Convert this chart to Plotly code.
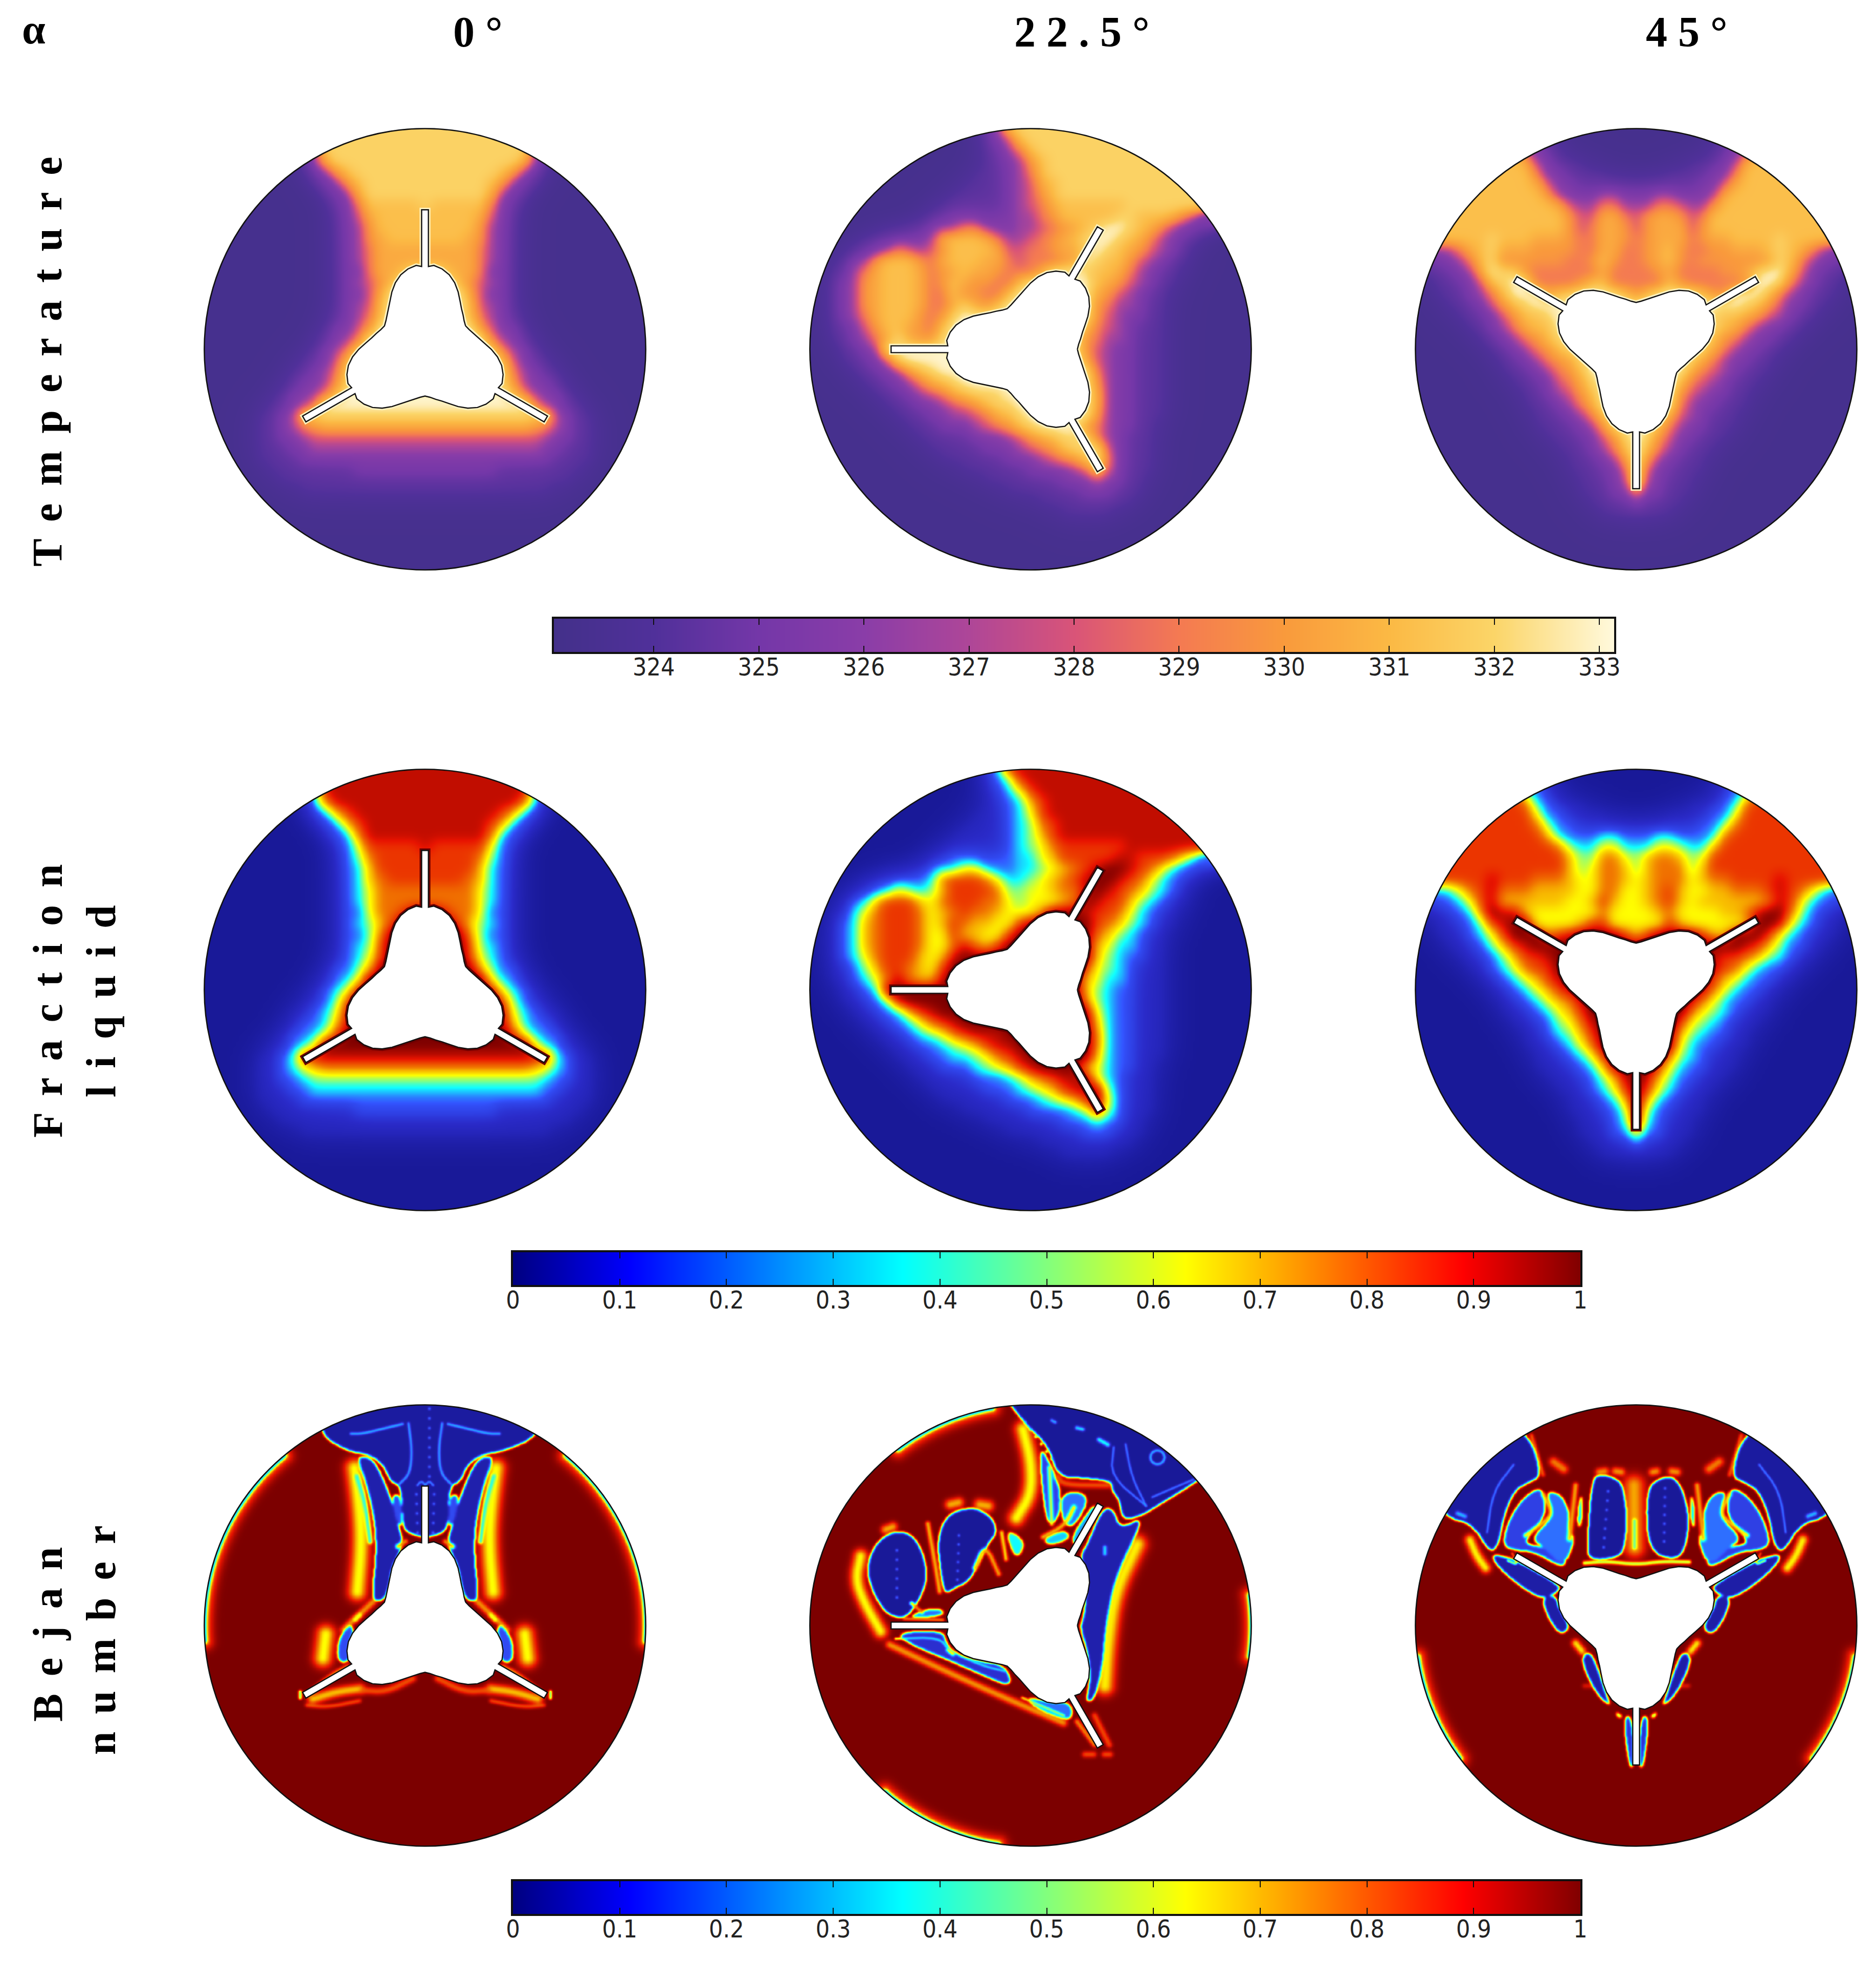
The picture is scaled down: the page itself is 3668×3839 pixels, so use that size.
import numpy as np
import plotly.graph_objects as go

W, H = 3668, 3839
ANGLES = ["0 °", "2 2 . 5 °", "4 5 °"]
LOBE_AXIS_DEG = [90, 60, 30]
T_TICKS = [324, 325, 326, 327, 328, 329, 330, 331, 332, 333]
T_MIN, T_MAX = 323.05, 333.14
F_TICKS = [0, 0.1, 0.2, 0.3, 0.4, 0.5, 0.6, 0.7, 0.8, 0.9, 1]
F_TICK_TEXT = ["0", "0.1", "0.2", "0.3", "0.4", "0.5", "0.6", "0.7", "0.8", "0.9", "1"]

# field levels: one letter per grid node
LEVELS = "0123456789a"
LEVEL_T = [323.3, 324.3, 325.3, 326.6, 328.0, 329.0, 329.9, 330.5, 331.2, 331.9, 333.0]
LEVEL_F = [0.02, 0.08, 0.15, 0.33, 0.50, 0.63, 0.70, 0.78, 0.85, 0.93, 1.0]

FIELD_0 = [
 "0"*10+"3"+"9"*19+"3"+"0"*10,
 "0"*10+"3"+"9"*19+"3"+"0"*10,
 "0"*10+"3"+"9"*19+"3"+"0"*10,
 "0"*10+"37"+"9"*17+"73"+"0"*10,
 "0"*10+"1368"+"9"*13+"8631"+"0"*10,
 "0"*11+"1368"+"9"*11+"8631"+"0"*11,
 "0"*12+"137"+"9"*11+"731"+"0"*12,
 "0"*12+"1258"+"888898888"+"8521"+"0"*12,
 "0"*12+"1247"+"888888888"+"7421"+"0"*12,
 "0"*12+"1236"+"888888888"+"6321"+"0"*12,
 "0"*12+"1236"+"788888887"+"6321"+"0"*12,
 "0"*12+"1235"+"777777777"+"5321"+"0"*12,
 "0"*12+"1235"+"777777777"+"5321"+"0"*12,
 "0"*12+"1225"+"778aaa877"+"5221"+"0"*12,
 "0"*12+"1234"+"68aaaaa86"+"4321"+"0"*12,
 "0"*12+"1224"+"7aaaaaaa7"+"4221"+"0"*12,
 "0"*12+"1234"+"8aaaaaaa8"+"4321"+"0"*12,
 "0"*12+"1235"+"8aaaaaaa8"+"5321"+"0"*12,
 "0"*11+"12246"+"a"*9+"64221"+"0"*11,
 "0"*11+"1235"+"a"*11+"5321"+"0"*11,
 "0"*10+"12359"+"a"*11+"95321"+"0"*10,
 "0"*9+"11248"+"a"*13+"84211"+"0"*9,
 "0"*8+"112359"+"a"*13+"953211"+"0"*8,
 "0"*8+"122369"+"a"*13+"963221"+"0"*8,
 "0"*7+"122358"+"a"*15+"853221"+"0"*7,
 "0"*6+"11235"+"a"*19+"53211"+"0"*6,
 "0"*5+"112389"+"9"*19+"983211"+"0"*5,
 "0"*5+"112356"+"7"*19+"653211"+"0"*5,
 "0"*5+"112234"+"4"*19+"432211"+"0"*5,
 "0"*5+"11122"+"3"*21+"22111"+"0"*5,
 "0"*5+"1111"+"2"*23+"1111"+"0"*5,
 "0"*6+"1"*8+"2"*13+"1"*8+"0"*6,
 "0"*7+"1"*27+"0"*7,
 "0"*9+"1"*23+"0"*9,
] + ["0"*41]*7

FIELD_22 = [
 "0"*16+"138"+"9"*22,
 "0"*16+"1248"+"9"*21,
 "0"*16+"11358"+"9"*20,
 "0"*16+"112368"+"9"*19,
 "0"*15+"1112358"+"9"*19,
 "0"*14+"111123478"+"9"*6+"9"+"9"*11,
 "0"*13+"11111"+"23468"+"9"*18,
 "0"*12+"111111"+"23457"+"8"*6+"9"*12,
 "0"*11+"11222122"+"33"+"56"+"88888"+"99"+"888"+"7531"+"0000",
 "0"*10+"12335532233456789aa9875321"+"0"*5,
 "0"*6+"11222"+"3"+"78887"+"5"+"33"+"4567"+"89"+"aa"+"98"+"75"+"321"+"0"*6,
 "0"*4+"112354346"+"8888"+"7"+"4455"+"677"+"9a987"+"64321"+"0"*6,
 "000"+"1236888657888775455567"+"a98864"+"3211"+"0"*6,
 "00"+"11357888756787765557"+"aaa"+"988753211"+"0"*7,
 "00"+"123678887568766558"+"a"*6+"87643211"+"0"*7,
 "00"+"12367888755866558"+"a"*7+"7643211"+"0"*8,
 "00"+"1236788875579768"+"a"*8+"6533211"+"0"*8,
 "00"+"123578886569"+"a"*12+"6432211"+"0"*8,
 "00"+"11246887658"+"a"*12+"85432111"+"0"*8,
 "00"+"11235797669"+"a"*12+"65332111"+"0"*8,
 "000"+"1123"+"a"*18+"64322111"+"0"*8,
 "000"+"111249"+"a"*16+"74322111"+"0"*8,
 "0000"+"11123689"+"a"*14+"5322111"+"0"*8,
 "0"*5+"111"+"235789"+"a"*12+"6322111"+"0"*8,
 "0"*6+"111234578999"+"a"*8+"7322111"+"0"*8,
 "0"*7+"111223456899"+"a"*7+"7322111"+"0"*8,
 "0"*8+"111223345789"+"a"*6+"6322111"+"0"*8,
 "0"*9+"111222345689"+"aaaa"+"6532211"+"0"*9,
 "0"*10+"111112223467899"+"a"+"532111"+"0"*9,
 "0"*11+"111112223456899"+"a"+"42111"+"0"*9,
 "0"*12+"111111"+"22234568"+"a"+"52111"+"0"*9,
 "0"*14+"111111"+"2222"+"3484"+"2111"+"0"*9,
 "0"*16+"1111111"+"222322"+"11"+"0"*10,
 "0"*18+"1111111"+"222"+"111"+"0"*10,
 "0"*21+"1"*9+"0"*11,
 "0"*23+"1"*5+"0"*13,
] + ["0"*41]*5

FIELD_45 = [
 "8"*10+"321"+"0"*15+"123"+"8"*10,
 "8"*10+"321"+"0"*15+"123"+"8"*10,
 "8"*10+"321"+"0"*15+"123"+"8"*10,
 "8"*10+"732"+"111"+"0"*9+"111"+"237"+"8"*10,
 "8"*11+"522"+"1111"+"00000"+"1111"+"225"+"8"*11,
 "8"*11+"7422"+"1"*11+"22"+"47"+"8"*11,
 "8"*12+"6"+"322233222332223"+"7"+"8"*12,
 "8"*13+"743355333554336"+"8"*13,
 "8"*14+"64477546776458"+"8"*13,
 "8"*14+"64577646777468"+"8"*13,
 "8"*7+"9"+"888"+"777"+"65"+"5"+"77"+"6"+"5"+"6"+"777"+"5"+"6"+"77"+"8888"+"9"+"8"*7,
 "22335789777"+"6666"+"55"+"77"+"55"+"6"+"7"+"8"+"6"+"55"+"66"+"777"+"8"+"9"+"8"+"7"+"5"+"3"+"2"+"11",
 "11123589"+"666666"+"55"+"6"+"8"+"6"+"55"+"6"+"7"+"8"+"6"+"5"+"666666"+"7"+"9"+"8"+"5"+"3"+"2"+"111",
 "0111237a996"+"555555"+"7"+"5555"+"6"+"7"+"5555"+"66"+"7"+"9"+"aa"+"7"+"4"+"2"+"111"+"0",
 "00111248"+"9aa"+"5555"+"6"+"88"+"55555"+"8"+"6"+"55555"+"6"+"aa"+"9"+"5"+"3"+"2"+"11"+"00",
 "001112358"+"aaa"+"789"+"aaaa"+"868"+"aaaa"+"866"+"aaa"+"853"+"2"+"111"+"00",
 "000"+"11124689"+"a"*19+"98642211"+"000",
 "0000"+"111246889"+"a"*14+"9887643211"+"0000",
 "0"*5+"11235788"+"a"*14+"987532211"+"0"*5,
 "0"*6+"11235689"+"a"*13+"86532211"+"0"*6,
 "0"*7+"11235689"+"a"*11+"97532211"+"0"*7,
 "0"*8+"11235679"+"a"*9+"97532211"+"0"*8,
 "0"*8+"11123568"+"a"*9+"75432111"+"0"*8,
 "0"*9+"11124579"+"a"*7+"85432111"+"0"*9,
 "0"*10+"1123468"+"a"*7+"6432211"+"0"*10,
 "0"*10+"1112357"+"a"*7+"5322111"+"0"*10,
 "0"*11+"1112358"+"a"*5+"7432111"+"0"*11,
 "0"*11+"11112369"+"aaa"+"85322111"+"0"*11,
 "0"*12+"11112469"+"a"+"96422111"+"0"*12,
 "0"*13+"1112358"+"a"+"8532111"+"0"*13,
 "0"*14+"111236"+"a"+"632111"+"0"*14,
 "0"*14+"111124"+"a"+"421111"+"0"*14,
 "0"*15+"11123"+"a"+"32111"+"0"*15,
 "0"*15+"11122"+"5"+"22111"+"0"*15,
 "0"*16+"1111"+"2"+"1111"+"0"*16,
 "0"*17+"1"*7+"0"*17,
] + ["0"*41]*5

# profile of the finned tube (angle from lobe axis, radius / R)
LOBE_PHI = [0, 6, 12, 18, 24, 30, 36, 42, 48, 54, 60]
LOBE_R = [0.384, 0.382, 0.372, 0.355, 0.330, 0.300, 0.270, 0.247, 0.232, 0.219, 0.212]
FIN_TIP_R = 0.632
FIN_BASE_R = 0.375

# Bejan number structures, in picture units of each panel
# regions: (outline, value inside); strokes: (polyline, half width, value at the ridge)
def mir(items, c):
    return [([(2 * c - x, y) for x, y in it[0]],) + tuple(it[1:]) for it in items]

B0_UNDER = [
 ([(542,262),(560,400),(566,520),(552,680)], 30, 0.62),
 ([(445,825),(435,905)], 30, 0.62),
 ([(605,715),(540,775),(505,810)], 11, 0.72),
 ([(520,935),(470,960),(385,1030)], 8, 0.7),
 ([(400,1045),(480,1020),(560,1010)], 16, 0.68),
 ([(570,1015),(650,1020),(740,975)], 11, 0.8),
 ([(380,1065),(450,1072),(560,1050)], 5, 0.75),
]
B0_BLUE = [
 ([(550,225),(585,320),(612,450),(616,560),(600,705),(632,716),(656,682),(669,600),(695,548),(706,510),(695,470),(677,400),(645,310),(615,248),(585,222)], 0.05),
 ([(668,355),(694,350),(704,400),(704,465),(680,435)], 0.15),
 ([(482,895),(492,832),(528,790),(540,815),(525,860),(528,910),(498,924)], 0.15),
]
B0_TOP = [(425,148),(520,205),(590,215),(640,250),(665,310),(700,320),(705,450),(720,480),(770,495),(794,495),(845,480),(860,450),(865,320),(900,310),(925,250),(975,215),(1045,205),(1170,152),(1170,30),(425,30)]
B0_OVER = [
 ([(690,527),(715,510)], 8, 0.75),
 ([(358,1020),(358,1040)], 5, 0.4),
 ([(545,775),(560,760)], 8, 0.6),
]
B0_LINES = [
 ([(725,110),(737,200),(730,280),(695,315)], 4, 0.3),
 ([(530,145),(570,145),(650,125),(705,112)], 4, 0.33),
 ([(550,290),(578,380),(595,510)], 8, 0.38),
 ([(755,320),(768,305),(782,318)], 3, 0.3),
]
B0_DOTS = [[(752,350),(756,480)]]
B0_DOTS_C = [[(796,60),(796,290)]]

B22_UNDER = [
 ([(212,560),(195,640),(225,720),(280,815)], 22, 0.62),
 ([(296,470),(322,460)], 14, 0.7),
 ([(515,385),(545,378)], 16, 0.7),
 ([(615,385),(645,390)], 18, 0.7),
 ([(762,130),(790,240),(790,350),(740,430)], 26, 0.62),
 ([(1150,520),(1075,680),(1050,850),(1040,1000)], 30, 0.64),
 ([(310,860),(500,950),(700,1040),(900,1125)], 12, 0.72),
 ([(1005,1100),(1055,1200)], 9, 0.8),
 ([(945,1120),(1005,1200)], 7, 0.7),
 ([(972,1232),(1002,1232)], 9, 0.8),
 ([(1038,1232),(1058,1232)], 9, 0.8),
]
B22_BLUE = [
 ([(232,600),(262,515),(330,472),(392,490),(428,560),(438,640),(408,715),(365,768),(335,768),(295,750),(252,680)], 0.02),
 ([(472,500),(505,418),(590,392),(656,425),(675,480),(645,515),(608,595),(575,648),(530,668),(498,690),(484,620)], 0.02),
 ([(720,50),(780,120),(850,190),(880,290),(960,295),(1060,305),(1065,340),(1090,370),(1100,440),(1170,420),(1200,400),(1340,315),(1385,280),(1385,30),(720,30)], 0.02),
 ([(1175,425),(1090,468),(1070,400),(1030,400),(980,520),(955,560),(980,630),(970,760),(955,800),(980,880),(990,960),(985,1010),(975,1055),(1005,1045),(1032,930),(1042,800),(1068,660),(1108,560)], 0.05),
 ([(325,820),(490,812),(500,850),(525,885),(600,915),(705,930),(726,1005),(640,970),(500,908),(395,866)], 0.1),
 ([(775,1038),(860,1056),(925,1056),(930,1115),(880,1106),(795,1066)], 0.2),
 ([(820,180),(870,280),(890,340),(885,430),(845,460),(825,300)], 0.13),
 ([(890,340),(995,350),(935,465),(895,445)], 0.2),
 ([(700,465),(775,510),(738,578)], 0.36),
 ([(425,742),(485,738),(495,762),(370,772)], 0.2),
 ([(925,495),(1000,385),(1012,398),(942,535)], 0.25),
 ([(830,500),(905,470),(925,500),(850,525)], 0.3),
]
B22_OVER = [
 ([(440,450),(460,560),(480,680)], 8, 0.7),
 ([(600,600),(635,520),(680,620)], 8, 0.72),
 ([(690,480),(705,570)], 7, 0.65),
 ([(830,495),(905,455),(935,395)], 8, 0.7),
 ([(880,290),(900,318),(1050,320)], 11, 0.82),
 ([(852,260),(860,450)], 7, 0.6),
 ([(385,720),(420,750)], 6, 0.75),
 ([(360,772),(490,776)], 5, 0.75),
 ([(760,1040),(900,1100)], 4, 0.6),
 ([(510,878),(525,890)], 7, 0.75),
]
B22_LINES = [
 ([(1110,180),(1130,290),(1180,390)], 3, 0.28),
 ([(1070,190),(1060,290),(1180,390)], 3, 0.28),
 ([(1340,300),(1200,360)], 3, 0.28),
 ([(1243,225),(1236,243),(1218,250),(1200,243),(1193,225),(1200,207),(1218,200),(1236,207),(1243,225)], 4, 0.33),
 ([(945,125),(965,130)], 6, 0.36),
 ([(1020,165),(1050,182)], 7, 0.4),
 ([(860,100),(872,106)], 5, 0.3),
 ([(1040,530),(1040,552)], 6, 0.36),
 ([(330,840),(480,835),(510,880),(620,930),(700,950)], 3, 0.42),
]
B22_DOTS = [[(335,540),(335,700)], [(545,490),(540,640)], [(770,105),(860,230)]]

B45_UNDER = [
 ([(232,505),(255,560),(285,600)], 16, 0.62),
 ([(515,240),(550,265)], 14, 0.75),
 ([(590,855),(612,882)], 12, 0.62),
 ([(440,150),(480,285)], 5, 0.72),
 ([(680,1000),(620,1000)], 7, 0.88),
]
B45_BLUE = [
 ([(435,150),(475,290),(430,310),(380,340),(345,430),(330,520),(300,550),(240,450),(150,430),(60,300),(300,60)], 0.03),
 ([(340,520),(370,420),(430,345),(480,330),(490,400),(470,450),(430,490),(420,520),(490,530),(560,570),(545,600),(450,545),(380,540)], 0.13),
 ([(490,340),(540,350),(570,410),(565,480),(590,500),(550,600),(480,530),(440,500),(500,440),(510,400)], 0.2),
 ([(298,552),(345,618),(470,708),(520,688),(545,662),(395,578),(365,566)], 0.04),
 ([(475,700),(522,692),(535,740),(572,800),(540,828),(498,772)], 0.04),
 ([(612,900),(640,882),(672,960),(697,1040),(708,1068),(665,1032),(622,950)], 0.04),
 ([(752,1105),(782,1105),(788,1275),(772,1275)], 0.1),
 ([(725,1085),(750,1105),(735,1110)], 0.33),
 ([(598,400),(612,340),(612,440),(598,470)], 0.25),
]
B45_OVER = [
 ([(590,320),(570,500)], 9, 0.72),
 ([(480,350),(510,410),(490,440),(420,490)], 7, 0.68),
 ([(360,575),(395,590),(375,550)], 3, 0.75),
 ([(190,415),(215,425)], 7, 0.3),
]
B45_UNDER_C = [
 ([(788,320),(790,530)], 34, 0.72),
 ([(670,275),(690,272)], 12, 0.72),
 ([(725,272),(745,275)], 12, 0.72),
 ([(850,275),(865,272)], 12, 0.72),
 ([(915,272),(935,275)], 12, 0.72),
]
B45_BLUE_C = [
 ([(630,515),(645,295),(680,284),(722,295),(750,318),(765,430),(755,535),(732,565),(635,575)], 0.02),
 ([(830,330),(878,295),(922,290),(955,338),(975,430),(965,525),(932,575),(835,545)], 0.02),
]
B45_OVER_C = [
 ([(620,583),(700,578),(796,588),(880,578),(975,580)], 6, 0.5),
 ([(790,440),(790,530)], 7, 0.45),
]
B45_DOTS_C = [[(700,340),(685,530)], [(893,330),(890,510)]]
B45_LINES = [
 ([(380,250),(310,340),(290,480)], 3, 0.28),
]

RIM_ARCS = [
 [(129.6, 184), (50.4, -4)],
 [(127, 100), (8, -8), (228.6, 261.6)],
 [(188, 217), (-8, -37)],
]

# ---------- colours ----------
JET = [[0, "#000080"], [0.11, "#0000ff"], [0.365, "#00ffff"], [0.63, "#ffff00"], [0.89, "#ff0000"], [1, "#800000"]]
JET_PANEL = [[0, "#14148a"], [0.09, "#2a2ac8"], [0.17, "#3355ff"], [0.365, "#10ffff"], [0.63, "#ffff00"], [0.78, "#f07000"], [0.89, "#e81400"], [1, "#7c0000"]]
TV = [323.05, 324, 325, 326, 327, 328, 329, 330, 331, 332, 333.14]
TC = ["#43308a", "#50309a", "#7437a8", "#8a3da8", "#ae4698", "#d95478", "#f47a52", "#f99a3c", "#fbb944", "#fbd568", "#fff9dc"]
THERMAL = [[(v - T_MIN) / (T_MAX - T_MIN), c] for v, c in zip(TV, TC)]

# ---------- layout of the picture ----------
COL_X = [831, 2015, 3199]
ROW_Y = [683, 1936, 3179]
PANEL_XC = [782, 789, 796]
PANEL_YC = [787, 791, 790]
BEJAN_YC = 796
R = 748.0
HALF_U = 780.0
HALF_PX = 450.0

fig = go.Figure()
layout = {}
shapes = []
axis_n = [0]


def new_axes(x0, x1, y0, y1, xr, yr):
    axis_n[0] += 1
    n = axis_n[0]
    xn = "x" if n == 1 else f"x{n}"
    yn = "y" if n == 1 else f"y{n}"
    xk = "xaxis" if n == 1 else f"xaxis{n}"
    yk = "yaxis" if n == 1 else f"yaxis{n}"
    layout[xk] = dict(domain=[x0 / W, x1 / W], range=xr, anchor=yn, visible=False, fixedrange=True)
    layout[yk] = dict(domain=[1 - y1 / H, 1 - y0 / H], range=yr, anchor=xn, visible=False, fixedrange=True)
    return xn, yn, xk, yk


def blur(a, s):
    r = int(3 * s) + 1
    k = np.exp(-0.5 * (np.arange(-r, r + 1) / s) ** 2)
    k /= k.sum()
    b = np.pad(a, r, mode="edge")
    b = np.apply_along_axis(lambda v: np.convolve(v, k, mode="same"), 0, b)
    b = np.apply_along_axis(lambda v: np.convolve(v, k, mode="same"), 1, b)
    return b[r:-r, r:-r]


def fine_levels(rows, f=4):
    a = np.array([[LEVELS.index(c) for c in r] for r in rows], dtype=float)
    n = a.shape[0]
    t = np.arange(n)
    tf = np.linspace(0, n - 1, (n - 1) * f + 1)
    a = np.apply_along_axis(lambda v: np.interp(tf, t, v), 0, a)
    a = np.apply_along_axis(lambda v: np.interp(tf, t, v), 1, a)
    sharp = blur(a, 0.45 * f)
    soft = blur(a, 1.3 * f)
    w = np.clip(sharp / 2.5, 0, 1)
    return w * sharp + (1 - w) * soft


def tube(xc, yc, axis_deg):
    xs, ys = [], []
    hw = 11.5
    for k in range(3):
        a = np.radians(axis_deg + 120 * k)
        ux, uy = np.cos(a), -np.sin(a)
        vx, vy = -uy, ux
        for phi, r in zip(LOBE_PHI[::-1], LOBE_R[::-1]):
            if phi == 0:
                continue
            b = a + np.radians(-phi)
            xs.append(xc + r * R * np.cos(b)); ys.append(yc - r * R * np.sin(b))
        for rr, s in ((FIN_BASE_R, -1), (FIN_TIP_R, -1), (FIN_TIP_R, 1), (FIN_BASE_R, 1)):
            xs.append(xc + rr * R * ux - s * hw * vx)
            ys.append(yc + rr * R * uy - s * hw * vy)
        for phi, r in zip(LOBE_PHI, LOBE_R):
            if phi == 0 or phi == 60:
                continue
            b = a + np.radians(phi)
            xs.append(xc + r * R * np.cos(b)); ys.append(yc - r * R * np.sin(b))
    xs.append(xs[0]); ys.append(ys[0])
    return xs, ys


def finish_panel(xa, ya, xc, yc, axis_deg, halo):
    xs, ys = tube(xc, yc, axis_deg)
    if halo:
        fig.add_trace(go.Scatter(x=xs, y=ys, mode="lines", line=dict(color=halo, width=8),
                                 xaxis=xa, yaxis=ya, hoverinfo="skip", showlegend=False))
    fig.add_trace(go.Scatter(x=xs, y=ys, mode="lines", fill="toself", fillcolor="white",
                             line=dict(color="#111111", width=2.4), xaxis=xa, yaxis=ya,
                             hoverinfo="skip", showlegend=False))
    t = np.linspace(0, 2 * np.pi, 241)
    circ = " ".join(("M" if i == 0 else "L") + f"{xc + R * np.cos(v):.1f},{yc + R * np.sin(v):.1f}" for i, v in enumerate(t))
    u = HALF_U + 40
    sq = f"M{xc - u},{yc - u} L{xc + u},{yc - u} L{xc + u},{yc + u} L{xc - u},{yc + u} Z "
    shapes.append(dict(type="path", path=sq + circ + " Z", xref=xa, yref=ya, fillcolor="white",
                       line=dict(width=0), layer="above"))
    shapes.append(dict(type="circle", xref=xa, yref=ya, x0=xc - R, x1=xc + R, y0=yc - R, y1=yc + R,
                       line=dict(color="#111111", width=2.6), layer="above"))


def chaikin(pts, closed, n=2):
    p = np.array(pts, dtype=float)
    for _ in range(n):
        q = np.roll(p, -1, axis=0) if closed else p[1:]
        a = p if closed else p[:-1]
        new = np.empty((2 * len(a), 2))
        new[0::2] = 0.75 * a + 0.25 * q
        new[1::2] = 0.25 * a + 0.75 * q
        if not closed:
            new = np.vstack([p[0], new, p[-1]])
        p = new
    return p


def fill_region(z, gx, gy, pts, val):
    p = chaikin(pts, True)
    ix = np.where((gx >= p[:, 0].min()) & (gx <= p[:, 0].max()))[0]
    iy = np.where((gy >= p[:, 1].min()) & (gy <= p[:, 1].max()))[0]
    if len(ix) == 0 or len(iy) == 0:
        return
    X, Y = np.meshgrid(gx[ix], gy[iy])
    inside = np.zeros(X.shape, dtype=bool)
    q = np.roll(p, -1, axis=0)
    for (x1, y1), (x2, y2) in zip(p, q):
        if y1 == y2:
            continue
        c = ((y1 > Y) != (y2 > Y)) & (X < (x2 - x1) * (Y - y1) / (y2 - y1) + x1)
        inside ^= c
    sub = z[iy[0]:iy[-1] + 1, ix[0]:ix[-1] + 1]
    sub[inside] = val


def stroke(z, gx, gy, pts, s, val, smooth=True):
    p = chaikin(pts, False) if (smooth and len(pts) > 2) else np.array(pts, dtype=float)
    m = 3.2 * s
    ix = np.where((gx >= p[:, 0].min() - m) & (gx <= p[:, 0].max() + m))[0]
    iy = np.where((gy >= p[:, 1].min() - m) & (gy <= p[:, 1].max() + m))[0]
    if len(ix) == 0 or len(iy) == 0:
        return
    X, Y = np.meshgrid(gx[ix], gy[iy])
    d2 = np.full(X.shape, 1e12)
    for a, b in zip(p[:-1], p[1:]):
        ab = b - a
        L = (ab ** 2).sum()
        t = np.clip(((X - a[0]) * ab[0] + (Y - a[1]) * ab[1]) / (L if L > 0 else 1), 0, 1)
        d2 = np.minimum(d2, (X - a[0] - t * ab[0]) ** 2 + (Y - a[1] - t * ab[1]) ** 2)
    g = np.exp(-d2 / (s * s))
    sub = z[iy[0]:iy[-1] + 1, ix[0]:ix[-1] + 1]
    sub += (val - sub) * g


def bejan_field(col, xc, yb):
    gx = xc + np.linspace(-765, 765, 511)
    gy = yb + np.linspace(-765, 765, 511)
    z = np.ones((511, 511))
    for a0, a1 in RIM_ARCS[col]:
        ang = np.radians(np.linspace(a0, a1, 40))
        stroke(z, gx, gy, [(xc + R * np.cos(v), yb - R * np.sin(v)) for v in ang], 28, 0.8, smooth=False)
        stroke(z, gx, gy, [(xc + R * np.cos(v), yb - R * np.sin(v)) for v in ang], 7, 0.15, smooth=False)
    if col == 0:
        under = B0_UNDER + mir(B0_UNDER, xc)
        blues = [(B0_TOP, 0.03)] + B0_BLUE + mir(B0_BLUE, xc)
        over = B0_OVER + mir(B0_OVER, xc)
        lines = B0_LINES + mir(B0_LINES, xc)
        dots = B0_DOTS + [[(2 * xc - x, y) for x, y in d] for d in B0_DOTS] + B0_DOTS_C
    elif col == 1:
        under, blues, over, lines, dots = B22_UNDER, B22_BLUE, B22_OVER, B22_LINES, B22_DOTS
    else:
        under = B45_UNDER + mir(B45_UNDER, xc) + B45_UNDER_C
        blues = B45_BLUE + mir(B45_BLUE, xc) + B45_BLUE_C
        over = B45_OVER + mir(B45_OVER, xc) + B45_OVER_C
        lines = B45_LINES + mir(B45_LINES, xc)
        dots = B45_DOTS_C
    for pts, s, v in under:
        stroke(z, gx, gy, pts, s, v)
    for pts, v in blues:
        fill_region(z, gx, gy, pts, v)
    z = blur(z, 1.2)
    for pts, s, v in over:
        stroke(z, gx, gy, pts, s, v)
    for pts, s, v in lines:
        stroke(z, gx, gy, pts, s, v)
    for d in dots:
        a, b = np.array(d[0], float), np.array(d[1], float)
        for t in np.linspace(0, 1, int(np.hypot(*(b - a)) / 30) + 1):
            c = a + (b - a) * t
            stroke(z, gx, gy, [tuple(c), tuple(c + 0.1)], 4, 0.28, smooth=False)
    return gx, gy, blur(z, 0.8)


FIELDS = [FIELD_0, FIELD_22, FIELD_45]
problems = [(n, j, len(r)) for n, g in enumerate(FIELDS) for j, r in enumerate(g) if len(r) != 41]
if problems or any(len(g) != 41 for g in FIELDS):
    raise SystemExit(f"bad rows {problems} {[len(g) for g in FIELDS]}")

LV = np.arange(11)
for col in range(3):
    xc, yc = PANEL_XC[col], PANEL_YC[col]
    fine = fine_levels(FIELDS[col])
    gx = xc + np.linspace(-750, 750, fine.shape[1])
    gy = yc + np.linspace(-750, 750, fine.shape[0])
    # temperature
    xa, ya, _, _ = new_axes(COL_X[col] - HALF_PX, COL_X[col] + HALF_PX, ROW_Y[0] - HALF_PX, ROW_Y[0] + HALF_PX,
                            [xc - HALF_U, xc + HALF_U], [yc + HALF_U, yc - HALF_U])
    fig.add_trace(go.Heatmap(x=gx, y=gy, z=np.round(np.interp(fine, LV, LEVEL_T), 3),
                             zmin=T_MIN, zmax=T_MAX, colorscale=THERMAL, zsmooth="best", showscale=False,
                             xaxis=xa, yaxis=ya, hoverinfo="skip"))
    finish_panel(xa, ya, xc, yc, LOBE_AXIS_DEG[col], "#fff3c0")
    # liquid fraction
    xa, ya, _, _ = new_axes(COL_X[col] - HALF_PX, COL_X[col] + HALF_PX, ROW_Y[1] - HALF_PX, ROW_Y[1] + HALF_PX,
                            [xc - HALF_U, xc + HALF_U], [yc + HALF_U, yc - HALF_U])
    fig.add_trace(go.Heatmap(x=gx, y=gy, z=np.round(np.interp(fine, LV, LEVEL_F), 3),
                             zmin=0, zmax=1, colorscale=JET_PANEL, zsmooth="best", showscale=False,
                             xaxis=xa, yaxis=ya, hoverinfo="skip"))
    finish_panel(xa, ya, xc, yc, LOBE_AXIS_DEG[col], "#6e0000")
    # Bejan number
    yb = BEJAN_YC
    xa, ya, _, _ = new_axes(COL_X[col] - HALF_PX, COL_X[col] + HALF_PX, ROW_Y[2] - HALF_PX, ROW_Y[2] + HALF_PX,
                            [xc - HALF_U, xc + HALF_U], [yb + HALF_U, yb - HALF_U])
    bx, by, bz = bejan_field(col, xc, yb)
    fig.add_trace(go.Heatmap(x=bx, y=by, z=np.round(bz, 3), zmin=0, zmax=1, zsmooth="best",
                             colorscale=JET_PANEL, showscale=False, xaxis=xa, yaxis=ya, hoverinfo="skip"))
    finish_panel(xa, ya, xc, yb, LOBE_AXIS_DEG[col], None)

# ---------- colour bars ----------
BAR_FONT = dict(family="DejaVu Sans Condensed, DejaVu Sans", size=48, color="#222222")


def bar(x0, x1, y0, y1, vmin, vmax, scale, ticks, text):
    vals = np.linspace(vmin, vmax, 200)
    xa, ya, k, k2 = new_axes(x0, x1, y0, y1, [vmin, vmax], [0, 1])
    layout[k].update(visible=True, showgrid=False, zeroline=False, ticks="inside", ticklen=12, tickwidth=2,
                     tickcolor="#111111", tickmode="array", tickvals=ticks, ticktext=text, tickfont=BAR_FONT,
                     showline=True, linecolor="#111111", linewidth=4, mirror="ticks", ticklabelstandoff=-16)
    layout[k2].update(visible=True, showgrid=False, zeroline=False, showticklabels=False, ticks="",
                      showline=True, linecolor="#111111", linewidth=4, mirror=True)
    fig.add_trace(go.Heatmap(x=vals, y=[0, 1], z=[vals, vals], zmin=vmin, zmax=vmax, colorscale=scale,
                             zsmooth="best", showscale=False, xaxis=xa, yaxis=ya, hoverinfo="skip"))


bar(1083, 3156, 1210, 1275, T_MIN, T_MAX, THERMAL, T_TICKS, [str(t) for t in T_TICKS])
bar(1003, 3090, 2449, 2513, 0, 1, JET, F_TICKS, F_TICK_TEXT)
bar(1003, 3090, 3679, 3743, 0, 1, JET, F_TICKS, F_TICK_TEXT)

# ---------- text ----------
SERIF = "Liberation Serif"
GAP = " \u2006"


def label(text, px, py, angle=0, size=82):
    return dict(text=f"<b>{text}</b>", x=px / W, y=1 - py / H, xref="paper", yref="paper", showarrow=False,
                xanchor="center", yanchor="middle", textangle=angle, font=dict(family=SERIF, size=size, color="black"))


annotations = [
    label("α", 66, 58),
    label(ANGLES[0], 934, 62, size=84),
    label(ANGLES[1], 2115, 62, size=84),
    label(ANGLES[2], 3298, 62, size=84),
    label(GAP.join("Temperature"), 93, 707, -90),
    label(GAP.join("Fraction"), 93, 1958, -90),
    label(GAP.join("liquid"), 197, 1958, -90),
    label(GAP.join("Bejan"), 93, 3196, -90),
    label(GAP.join("number"), 197, 3208, -90),
]

fig.update_layout(width=W, height=H, margin=dict(l=0, r=0, t=0, b=0, pad=0, autoexpand=False), paper_bgcolor="white",
                  plot_bgcolor="white", showlegend=False, annotations=annotations, shapes=shapes, **layout)
fig.write_html("out.html", post_script="document.body.style.margin='0';", config={"displayModeBar": False})
